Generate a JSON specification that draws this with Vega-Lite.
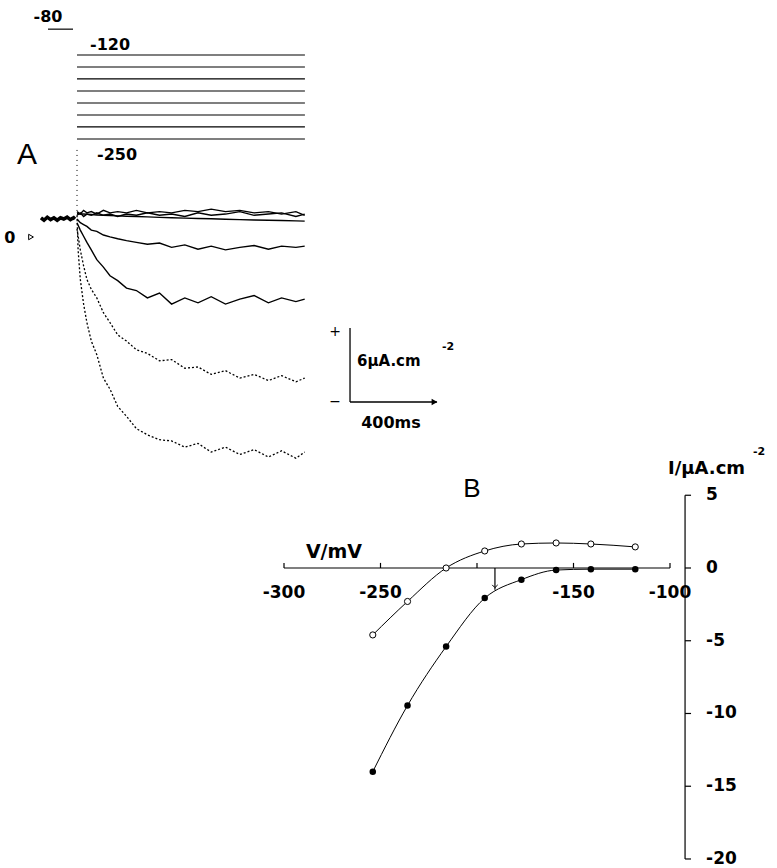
{
  "$schema": "https://vega.github.io/schema/vega-lite/v6.json",
  "width": 777,
  "height": 868,
  "padding": 0,
  "autosize": {"type": "fit", "contains": "padding"},
  "background": "white",
  "config": {"view": {"stroke": null}, "text": {"font": "DejaVu Sans", "color": "black"}},
  "datasets": {
    "traces": [
      {"trace":"T1","t":0,"i":0.6},{"trace":"T1","t":15,"i":0.4},{"trace":"T1","t":30,"i":0.7},{"trace":"T1","t":45,"i":0.5},{"trace":"T1","t":65,"i":0.6},{"trace":"T1","t":90,"i":0.4},{"trace":"T1","t":120,"i":0.7},{"trace":"T1","t":150,"i":0.5},{"trace":"T1","t":185,"i":0.6},{"trace":"T1","t":225,"i":0.5},{"trace":"T1","t":270,"i":0.7},{"trace":"T1","t":320,"i":0.5},{"trace":"T1","t":375,"i":0.6},{"trace":"T1","t":430,"i":0.5},{"trace":"T1","t":490,"i":0.7},{"trace":"T1","t":550,"i":0.6},{"trace":"T1","t":610,"i":0.8},{"trace":"T1","t":675,"i":0.6},{"trace":"T1","t":740,"i":0.7},{"trace":"T1","t":805,"i":0.5},{"trace":"T1","t":870,"i":0.6},{"trace":"T1","t":930,"i":0.4},{"trace":"T1","t":995,"i":0.6},{"trace":"T1","t":1035,"i":0.3},
      {"trace":"T1b","t":0,"i":0.3},{"trace":"T1b","t":15,"i":0.5},{"trace":"T1b","t":30,"i":0.2},{"trace":"T1b","t":45,"i":0.4},{"trace":"T1b","t":65,"i":0.3},{"trace":"T1b","t":90,"i":0.5},{"trace":"T1b","t":120,"i":0.3},{"trace":"T1b","t":150,"i":0.4},{"trace":"T1b","t":185,"i":0.2},{"trace":"T1b","t":225,"i":0.4},{"trace":"T1b","t":270,"i":0.3},{"trace":"T1b","t":320,"i":0.5},{"trace":"T1b","t":375,"i":0.3},{"trace":"T1b","t":430,"i":0.4},{"trace":"T1b","t":490,"i":0.2},{"trace":"T1b","t":550,"i":0.5},{"trace":"T1b","t":610,"i":0.3},{"trace":"T1b","t":675,"i":0.4},{"trace":"T1b","t":740,"i":0.6},{"trace":"T1b","t":805,"i":0.3},{"trace":"T1b","t":870,"i":0.4},{"trace":"T1b","t":930,"i":0.5},{"trace":"T1b","t":995,"i":0.2},{"trace":"T1b","t":1035,"i":0.4},
      {"trace":"T2","t":0,"i":0.45},{"trace":"T2","t":15,"i":0.4},{"trace":"T2","t":30,"i":0.4},{"trace":"T2","t":45,"i":0.38},{"trace":"T2","t":65,"i":0.36},{"trace":"T2","t":90,"i":0.33},{"trace":"T2","t":120,"i":0.3},{"trace":"T2","t":150,"i":0.28},{"trace":"T2","t":185,"i":0.25},{"trace":"T2","t":225,"i":0.22},{"trace":"T2","t":270,"i":0.2},{"trace":"T2","t":320,"i":0.17},{"trace":"T2","t":375,"i":0.13},{"trace":"T2","t":430,"i":0.1},{"trace":"T2","t":490,"i":0.07},{"trace":"T2","t":550,"i":0.04},{"trace":"T2","t":610,"i":0.02},{"trace":"T2","t":675,"i":-0.02},{"trace":"T2","t":740,"i":-0.05},{"trace":"T2","t":805,"i":-0.08},{"trace":"T2","t":870,"i":-0.1},{"trace":"T2","t":930,"i":-0.12},{"trace":"T2","t":995,"i":-0.15},{"trace":"T2","t":1035,"i":-0.17},
      {"trace":"T3","t":0,"i":0.0},{"trace":"T3","t":15,"i":-0.3},{"trace":"T3","t":30,"i":-0.45},{"trace":"T3","t":45,"i":-0.6},{"trace":"T3","t":65,"i":-0.9},{"trace":"T3","t":90,"i":-1.0},{"trace":"T3","t":120,"i":-1.3},{"trace":"T3","t":150,"i":-1.45},{"trace":"T3","t":185,"i":-1.6},{"trace":"T3","t":225,"i":-1.75},{"trace":"T3","t":270,"i":-1.9},{"trace":"T3","t":320,"i":-2.05},{"trace":"T3","t":375,"i":-1.95},{"trace":"T3","t":430,"i":-2.3},{"trace":"T3","t":490,"i":-2.1},{"trace":"T3","t":550,"i":-2.45},{"trace":"T3","t":610,"i":-2.2},{"trace":"T3","t":675,"i":-2.5},{"trace":"T3","t":740,"i":-2.3},{"trace":"T3","t":805,"i":-2.15},{"trace":"T3","t":870,"i":-2.45},{"trace":"T3","t":930,"i":-2.2},{"trace":"T3","t":995,"i":-2.3},{"trace":"T3","t":1035,"i":-2.2},
      {"trace":"T4","t":0,"i":-0.3},{"trace":"T4","t":15,"i":-0.9},{"trace":"T4","t":30,"i":-1.4},{"trace":"T4","t":45,"i":-1.9},{"trace":"T4","t":65,"i":-2.5},{"trace":"T4","t":90,"i":-3.3},{"trace":"T4","t":120,"i":-3.9},{"trace":"T4","t":150,"i":-4.6},{"trace":"T4","t":185,"i":-5.0},{"trace":"T4","t":225,"i":-5.6},{"trace":"T4","t":270,"i":-5.8},{"trace":"T4","t":320,"i":-6.4},{"trace":"T4","t":375,"i":-6.0},{"trace":"T4","t":430,"i":-6.9},{"trace":"T4","t":490,"i":-6.4},{"trace":"T4","t":550,"i":-6.8},{"trace":"T4","t":610,"i":-6.3},{"trace":"T4","t":675,"i":-6.9},{"trace":"T4","t":740,"i":-6.5},{"trace":"T4","t":805,"i":-6.2},{"trace":"T4","t":870,"i":-6.8},{"trace":"T4","t":930,"i":-6.4},{"trace":"T4","t":995,"i":-6.7},{"trace":"T4","t":1035,"i":-6.5},
      {"trace":"T5","t":0,"i":-0.8},{"trace":"T5","t":15,"i":-2.5},{"trace":"T5","t":30,"i":-3.8},{"trace":"T5","t":45,"i":-4.9},{"trace":"T5","t":65,"i":-5.7},{"trace":"T5","t":90,"i":-6.4},{"trace":"T5","t":120,"i":-7.6},{"trace":"T5","t":150,"i":-8.4},{"trace":"T5","t":185,"i":-9.4},{"trace":"T5","t":225,"i":-9.9},{"trace":"T5","t":270,"i":-10.6},{"trace":"T5","t":320,"i":-10.9},{"trace":"T5","t":375,"i":-11.5},{"trace":"T5","t":430,"i":-11.4},{"trace":"T5","t":490,"i":-12.1},{"trace":"T5","t":550,"i":-12.0},{"trace":"T5","t":610,"i":-12.6},{"trace":"T5","t":675,"i":-12.3},{"trace":"T5","t":740,"i":-12.9},{"trace":"T5","t":805,"i":-12.6},{"trace":"T5","t":870,"i":-13.1},{"trace":"T5","t":930,"i":-12.7},{"trace":"T5","t":995,"i":-13.2},{"trace":"T5","t":1035,"i":-12.9},
      {"trace":"T6","t":0,"i":0.3},{"trace":"T6","t":5,"i":-2.5},{"trace":"T6","t":15,"i":-4.9},{"trace":"T6","t":30,"i":-6.9},{"trace":"T6","t":45,"i":-8.4},{"trace":"T6","t":65,"i":-9.9},{"trace":"T6","t":90,"i":-11.0},{"trace":"T6","t":120,"i":-12.9},{"trace":"T6","t":150,"i":-13.8},{"trace":"T6","t":185,"i":-15.2},{"trace":"T6","t":225,"i":-16.0},{"trace":"T6","t":270,"i":-17.0},{"trace":"T6","t":320,"i":-17.5},{"trace":"T6","t":375,"i":-17.9},{"trace":"T6","t":430,"i":-18.0},{"trace":"T6","t":490,"i":-18.5},{"trace":"T6","t":550,"i":-18.2},{"trace":"T6","t":610,"i":-18.9},{"trace":"T6","t":675,"i":-18.5},{"trace":"T6","t":740,"i":-19.1},{"trace":"T6","t":805,"i":-18.7},{"trace":"T6","t":870,"i":-19.3},{"trace":"T6","t":930,"i":-18.8},{"trace":"T6","t":995,"i":-19.4},{"trace":"T6","t":1035,"i":-18.9}
    ],
    "baseline": [
      {"t":-164,"i":0.1},{"t":-150,"i":-0.1},{"t":-135,"i":0.15},{"t":-120,"i":-0.05},{"t":-105,"i":0.1},{"t":-90,"i":-0.1},{"t":-75,"i":0.1},{"t":-60,"i":0.0},{"t":-45,"i":0.15},{"t":-30,"i":-0.05},{"t":-15,"i":0.1},{"t":-9,"i":0.0}
    ],
    "steps": [
      {"v":-80,"t":-132,"t2":-18},
      {"v":-120,"t":0,"t2":1036},{"v":-138.6,"t":0,"t2":1036},{"v":-157.1,"t":0,"t2":1036},{"v":-175.7,"t":0,"t2":1036},
      {"v":-194.3,"t":0,"t2":1036},{"v":-212.9,"t":0,"t2":1036},{"v":-231.4,"t":0,"t2":1036},{"v":-250,"t":0,"t2":1036}
    ],
    "ivOpen": [
      {"V":-254,"I":-4.6},{"V":-236,"I":-2.3},{"V":-216,"I":0.0},{"V":-196,"I":1.17},{"V":-177,"I":1.65},{"V":-159,"I":1.72},{"V":-141,"I":1.65},{"V":-118,"I":1.45}
    ],
    "ivFilled": [
      {"V":-254,"I":-14.0},{"V":-236,"I":-9.45},{"V":-216,"I":-5.4},{"V":-196,"I":-2.07},{"V":-177,"I":-0.8},{"V":-159,"I":-0.14},{"V":-141,"I":-0.08},{"V":-118,"I":-0.08}
    ],
    "bAxes": [
      {"V":-300,"V2":-100,"I":0,"I2":0},
      {"V":-92.2,"V2":-92.2,"I":5,"I2":-20},
      {"V":-300,"V2":-300,"I":0,"I2":0.35},{"V":-250,"V2":-250,"I":0,"I2":0.35},{"V":-200,"V2":-200,"I":0,"I2":0.35},{"V":-150,"V2":-150,"I":0,"I2":0.35},{"V":-100,"V2":-100,"I":0,"I2":0.35},
      {"V":-92.2,"V2":-89.1,"I":5,"I2":5},{"V":-92.2,"V2":-89.1,"I":0,"I2":0},{"V":-92.2,"V2":-89.1,"I":-5,"I2":-5},{"V":-92.2,"V2":-89.1,"I":-10,"I2":-10},{"V":-92.2,"V2":-89.1,"I":-15,"I2":-15},{"V":-92.2,"V2":-89.1,"I":-20,"I2":-20},
      {"V":-190.7,"V2":-190.7,"I":0,"I2":-1.5}
    ]
  },
  "layer": [
    {
      "encoding": {
        "x": {"field": "t", "type": "quantitative", "scale": {"domain": [-350, 3181.8], "nice": false, "zero": false}, "axis": null},
        "y": {"field": "i", "type": "quantitative", "scale": {"domain": [-52.63, 17.76], "nice": false, "zero": false}, "axis": null}
      },
      "layer": [
        {
          "data": {"name": "baseline"},
          "mark": {"type": "line", "color": "black", "strokeWidth": 3.5},
          "encoding": {}
        },
        {
          "data": {"name": "traces"},
          "transform": [{"filter": {"field": "trace", "oneOf": ["T1", "T1b", "T2", "T3", "T4"]}}],
          "mark": {"type": "line", "color": "black", "strokeWidth": 1.4},
          "encoding": {"detail": {"field": "trace", "type": "nominal"}}
        },
        {
          "data": {"name": "traces"},
          "transform": [{"filter": {"field": "trace", "oneOf": ["T5", "T6"]}}],
          "mark": {"type": "line", "color": "black", "strokeWidth": 1.3, "strokeDash": [2, 2]},
          "encoding": {"detail": {"field": "trace", "type": "nominal"}}
        },
        {
          "data": {"values": [{"t": 0, "i": 5.6, "i2": 0.5}]},
          "mark": {"type": "rule", "color": "black", "strokeWidth": 1, "strokeDash": [1, 4]},
          "encoding": {"y2": {"field": "i2"}}
        },
        {
          "data": {"values": [{"t": 1241, "t2": 1241, "i": -8.84, "i2": -14.84}, {"t": 1241, "t2": 1636, "i": -14.84, "i2": -14.84}]},
          "mark": {"type": "rule", "color": "black", "strokeWidth": 1.3},
          "encoding": {"x2": {"field": "t2"}, "y2": {"field": "i2"}}
        },
        {
          "data": {"values": [{"t": 1625, "i": -14.84}]},
          "mark": {"type": "point", "shape": "triangle-right", "filled": true, "color": "black", "size": 45, "opacity": 1},
          "encoding": {}
        },
        {
          "data": {"values": [{"t": -209, "i": -1.46}]},
          "mark": {"type": "point", "shape": "triangle-right", "filled": false, "color": "black", "strokeWidth": 1, "size": 30, "opacity": 1},
          "encoding": {}
        },
        {
          "data": {"values": [{"label": "0", "t": -305, "i": -1.54}, {"label": "400ms", "t": 1427, "i": -16.54}]},
          "mark": {"type": "text", "fontSize": 16, "fontWeight": "bold", "align": "center", "baseline": "middle"},
          "encoding": {"text": {"field": "label"}}
        },
        {
          "data": {"values": [{"label": "+", "t": 1173, "i": -9.16}, {"label": "−", "t": 1173, "i": -14.84}]},
          "mark": {"type": "text", "fontSize": 14, "align": "center", "baseline": "middle"},
          "encoding": {"text": {"field": "label"}}
        },
        {
          "data": {"values": [{"label": "6µA.cm", "t": 1273, "i": -11.5}]},
          "mark": {"type": "text", "fontSize": 15, "fontWeight": "bold", "align": "left", "baseline": "middle"},
          "encoding": {"text": {"field": "label"}}
        },
        {
          "data": {"values": [{"label": "-2", "t": 1659, "i": -10.4}]},
          "mark": {"type": "text", "fontSize": 11, "fontWeight": "bold", "align": "left", "baseline": "middle"},
          "encoding": {"text": {"field": "label"}}
        },
        {
          "data": {"values": [{"label": "A", "t": -227, "i": 5.19}]},
          "mark": {"type": "text", "font": "Liberation Sans", "fontSize": 30, "align": "center", "baseline": "middle"},
          "encoding": {"text": {"field": "label"}}
        }
      ]
    },
    {
      "encoding": {
        "x": {"field": "t", "type": "quantitative", "scale": {"domain": [-350, 3181.8], "nice": false, "zero": false}, "axis": null},
        "y": {"field": "v", "type": "quantitative", "scale": {"domain": [-1378.5, -34.86], "nice": false, "zero": false}, "axis": null}
      },
      "layer": [
        {
          "data": {"name": "steps"},
          "mark": {"type": "rule", "color": "black", "strokeWidth": 1.2},
          "encoding": {"x2": {"field": "t2"}}
        },
        {
          "data": {"values": [{"label": "-80", "t": -132, "v": -61}, {"label": "-120", "t": 150, "v": -104.5}, {"label": "-250", "t": 182, "v": -274.8}]},
          "mark": {"type": "text", "fontSize": 16, "fontWeight": "bold", "align": "center", "baseline": "middle"},
          "encoding": {"text": {"field": "label"}}
        }
      ]
    },
    {
      "encoding": {
        "x": {"field": "V", "type": "quantitative", "scale": {"domain": [-447.15, -44.56], "nice": false, "zero": false}, "axis": null},
        "y": {"field": "I", "type": "quantitative", "scale": {"domain": [-20.62, 39.04], "nice": false, "zero": false}, "axis": null}
      },
      "layer": [
        {
          "data": {"name": "bAxes"},
          "mark": {"type": "rule", "color": "black", "strokeWidth": 1.2},
          "encoding": {"x2": {"field": "V2"}, "y2": {"field": "I2"}}
        },
        {
          "data": {"values": [{"V": -190.7, "I": -1.35}]},
          "mark": {"type": "point", "shape": "M-1,-1L0,0L1,-1", "filled": false, "color": "black", "strokeWidth": 1, "size": 30, "opacity": 1},
          "encoding": {}
        },
        {
          "data": {"name": "ivOpen"},
          "mark": {"type": "line", "color": "black", "strokeWidth": 1, "interpolate": "monotone"},
          "encoding": {}
        },
        {
          "data": {"name": "ivFilled"},
          "mark": {"type": "line", "color": "black", "strokeWidth": 1, "interpolate": "monotone"},
          "encoding": {}
        },
        {
          "data": {"name": "ivOpen"},
          "mark": {"type": "point", "shape": "circle", "filled": true, "fill": "white", "stroke": "black", "strokeWidth": 1, "size": 38, "opacity": 1},
          "encoding": {}
        },
        {
          "data": {"name": "ivFilled"},
          "mark": {"type": "point", "shape": "circle", "filled": true, "color": "black", "size": 42, "opacity": 1},
          "encoding": {}
        },
        {
          "data": {"values": [{"label": "-300", "V": -300, "I": -1.72}, {"label": "-250", "V": -250, "I": -1.72}, {"label": "-150", "V": -150, "I": -1.72}, {"label": "-100", "V": -100, "I": -1.72}]},
          "mark": {"type": "text", "fontSize": 17, "fontWeight": "bold", "align": "center", "baseline": "middle"},
          "encoding": {"text": {"field": "label"}}
        },
        {
          "data": {"values": [{"label": "5", "V": -81.3, "I": 5}, {"label": "0", "V": -81.3, "I": 0}, {"label": "-5", "V": -81.3, "I": -5}, {"label": "-10", "V": -81.3, "I": -10}, {"label": "-15", "V": -81.3, "I": -15}, {"label": "-20", "V": -81.3, "I": -20}]},
          "mark": {"type": "text", "fontSize": 17, "fontWeight": "bold", "align": "left", "baseline": "middle"},
          "encoding": {"text": {"field": "label"}}
        },
        {
          "data": {"values": [{"label": "V/mV", "V": -274.1, "I": 1.1}]},
          "mark": {"type": "text", "fontSize": 19, "fontWeight": "bold", "align": "center", "baseline": "middle"},
          "encoding": {"text": {"field": "label"}}
        },
        {
          "data": {"values": [{"label": "I/µA.cm", "V": -101, "I": 6.8}]},
          "mark": {"type": "text", "fontSize": 18, "fontWeight": "bold", "align": "left", "baseline": "middle"},
          "encoding": {"text": {"field": "label"}}
        },
        {
          "data": {"values": [{"label": "-2", "V": -57, "I": 8.0}]},
          "mark": {"type": "text", "fontSize": 11, "fontWeight": "bold", "align": "left", "baseline": "middle"},
          "encoding": {"text": {"field": "label"}}
        },
        {
          "data": {"values": [{"label": "B", "V": -202.6, "I": 5.43}]},
          "mark": {"type": "text", "font": "Liberation Sans", "fontSize": 26, "align": "center", "baseline": "middle"},
          "encoding": {"text": {"field": "label"}}
        }
      ]
    }
  ],
  "resolve": {"scale": {"x": "independent", "y": "independent"}}
}
